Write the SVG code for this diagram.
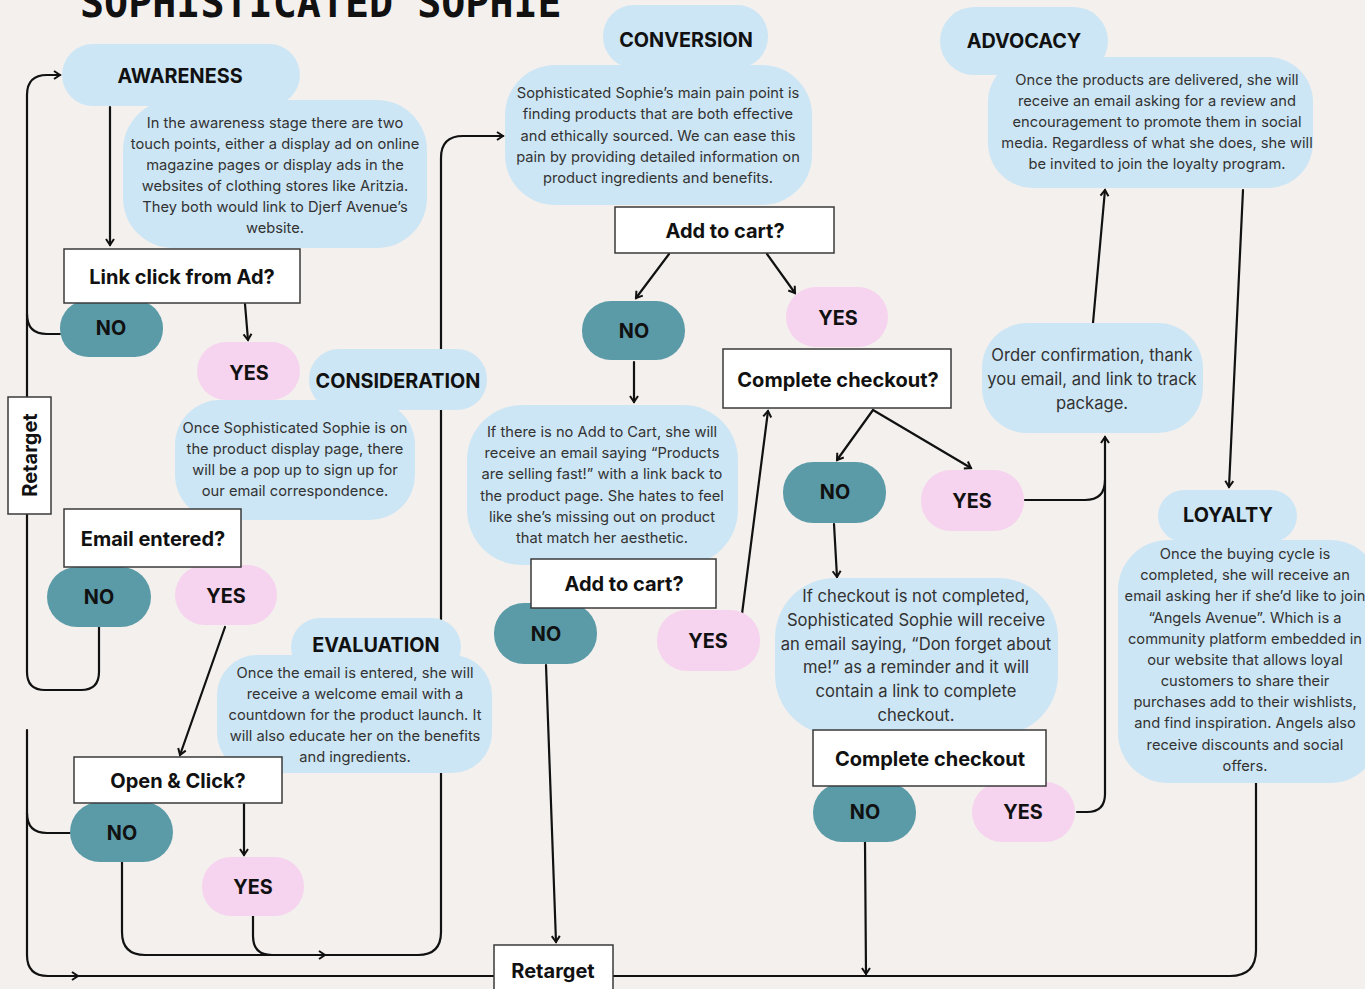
<svg xmlns="http://www.w3.org/2000/svg" width="1365" height="989" viewBox="0 0 1365 989" xml:space="preserve">
<defs>
<marker id="ah" viewBox="-8 -6 10 12" refX="0" refY="0" markerWidth="10" markerHeight="12" markerUnits="userSpaceOnUse" orient="auto">
<path d="M-6,-4 L0,0 L-6,4" fill="none" stroke="#111" stroke-width="2" stroke-linejoin="miter"/>
</marker>
</defs>
<style>
.bg{fill:#f4f0ed}
.bub{fill:#cde6f5}
.no{fill:#5b9ba8}
.yes{fill:#f6d3ee}
.box{fill:#ffffff;stroke:#3a3a3a;stroke-width:1.5}
.c{fill:none;stroke:#111;stroke-width:2.2;stroke-linecap:round}
.a{marker-end:url(#ah)}
.h{font-family:Inter,"Liberation Sans",sans-serif;font-weight:700;font-size:19.8px;fill:#111;text-anchor:middle}
.q{font-family:Inter,"Liberation Sans",sans-serif;font-weight:700;font-size:20px;fill:#111;text-anchor:middle}
.d{font-family:Inter,"Liberation Sans",sans-serif;font-size:14.7px;fill:#333;text-anchor:middle}
.dl{font-family:Inter,"Liberation Sans",sans-serif;font-size:16.6px;fill:#333;text-anchor:middle}
.t{font-family:"DejaVu Sans Mono",monospace;font-weight:700;font-size:40px;fill:#111}
</style>
<rect class="bg" x="0" y="0" width="1365" height="989"/>
<text class="t" x="80" y="17">SOPHISTICATED SOPHIE</text>

<g id="connectors">
<path class="c a" d="M110,107 L110,245"/>
<path class="c a" d="M245,304 L248,340"/>
<path class="c a" d="M99,627 L99,672 Q99,690 81,690 L45,690 Q27,690 27,672 L27,95 Q27,75 47,75 L60,75"/>
<path class="c" d="M60,334 L47,334 Q27,334 27,314"/>
<path class="c a" d="M27,730 L27,955 Q27,976 48,976 L78,976"/>
<path class="c" d="M78,976 L494,976"/>
<path class="c" d="M70,833 L47,833 Q27,833 27,813"/>
<path class="c a" d="M225,627 L180,755"/>
<path class="c a" d="M244,804 L244,855"/>
<path class="c a" d="M122,862 L122,932 Q122,955 145,955 L325,955"/>
<path class="c a" d="M325,955 L418,955 Q441,955 441,932 L441,158 Q441,136 463,136 L503,136"/>
<path class="c" d="M253,916 L253,936 Q253,955 272,955"/>
<path class="c a" d="M669,254 L636,298"/>
<path class="c a" d="M767,254 L795,293"/>
<path class="c a" d="M634,362 L634,402"/>
<path class="c a" d="M546,665 L556,942"/>
<path class="c a" d="M742,614 L768,411"/>
<path class="c a" d="M873,410 L837,460"/>
<path class="c a" d="M873,410 L971,468"/>
<path class="c a" d="M834,524 L837,577"/>
<path class="c" d="M1025,500 L1085,500 Q1105,500 1105,480"/>
<path class="c a" d="M1077,812 L1087,812 Q1105,812 1105,794 L1105,437"/>
<path class="c a" d="M1093,323 L1105,190"/>
<path class="c a" d="M1243,190 L1229,487"/>
<path class="c" d="M1256,783 L1256,950 Q1256,976 1230,976 L613,976"/>
<path class="c a" d="M865,842 L866,974"/>
</g>

<g id="awareness">
<rect class="bub" x="62" y="44" width="238" height="62" rx="31"/>
<text class="h" x="180" y="83">AWARENESS</text>
</g>
<g id="awareness-desc">
<rect class="bub" x="123" y="100" width="304" height="148" rx="50"/>
<text class="d" x="275" y="128">In the awareness stage there are two</text>
<text class="d" x="275" y="149">touch points, either a display ad on online</text>
<text class="d" x="275" y="170">magazine pages or display ads in the</text>
<text class="d" x="275" y="191">websites of clothing stores like Aritzia.</text>
<text class="d" x="275" y="212">They both would link  to Djerf Avenue’s</text>
<text class="d" x="275" y="233">website.</text>
</g>

<g id="consideration">
<rect class="bub" x="309" y="349" width="178" height="61" rx="30"/>
<text class="h" x="398" y="388">CONSIDERATION</text>
</g>
<g id="consideration-desc">
<rect class="bub" x="175" y="400" width="240" height="120" rx="45"/>
<text class="d" x="295" y="433">Once Sophisticated Sophie is on</text>
<text class="d" x="295" y="454">the product display page, there</text>
<text class="d" x="295" y="475">will be a pop up to sign up for</text>
<text class="d" x="295" y="496">our  email correspondence.</text>
</g>

<g id="evaluation">
<rect class="bub" x="291" y="618" width="170" height="58" rx="29"/>
<text class="h" x="376" y="652">EVALUATION</text>
</g>
<g id="evaluation-desc">
<rect class="bub" x="217" y="655" width="275" height="118" rx="40"/>
<text class="d" x="355" y="678">Once the email is entered, she will</text>
<text class="d" x="355" y="699">receive a  welcome email with a</text>
<text class="d" x="355" y="720">countdown for the product launch. It</text>
<text class="d" x="355" y="741">will also  educate  her on the benefits</text>
<text class="d" x="355" y="762">and ingredients.</text>
</g>

<g id="conversion">
<rect class="bub" x="603" y="5" width="165" height="63" rx="31"/>
<text class="h" x="686" y="47">CONVERSION</text>
</g>
<g id="conversion-desc">
<rect class="bub" x="505" y="65" width="307" height="140" rx="50"/>
<text class="d" x="658" y="98">Sophisticated Sophie’s main pain point is</text>
<text class="d" x="658" y="119">finding products that are both effective</text>
<text class="d" x="658" y="141">and ethically sourced. We can ease this</text>
<text class="d" x="658" y="162">pain by providing detailed information  on</text>
<text class="d" x="658" y="183">product ingredients and benefits.</text>
</g>

<g id="nocart-desc">
<rect class="bub" x="467" y="405" width="271" height="160" rx="55"/>
<text class="d" x="602" y="437">If there is no Add to Cart, she will</text>
<text class="d" x="602" y="458">receive an email saying “Products</text>
<text class="d" x="602" y="479">are selling fast!” with a link back to</text>
<text class="d" x="602" y="501">the product page. She hates to feel</text>
<text class="d" x="602" y="522">like she’s missing out on product</text>
<text class="d" x="602" y="543">that match her aesthetic.</text>
</g>

<g id="checkout-fail-desc">
<rect class="bub" x="775" y="578" width="283" height="157" rx="60"/>
<text class="dl" x="916" y="602">If checkout is not completed,</text>
<text class="dl" x="916" y="626">Sophisticated Sophie will receive</text>
<text class="dl" x="916" y="650">an email  saying, “Don forget about</text>
<text class="dl" x="916" y="673">me!” as a reminder and it will</text>
<text class="dl" x="916" y="697">contain a link to complete</text>
<text class="dl" x="916" y="721">checkout.</text>
</g>

<g id="advocacy">
<rect class="bub" x="940" y="7" width="168" height="68" rx="34"/>
<text class="h" x="1024" y="48">ADVOCACY</text>
</g>
<g id="advocacy-desc">
<rect class="bub" x="988" y="57" width="325" height="131" rx="45"/>
<text class="d" x="1157" y="85">Once the products are delivered, she will</text>
<text class="d" x="1157" y="106">receive an email asking for a review and</text>
<text class="d" x="1157" y="127">encouragement to promote them in social</text>
<text class="d" x="1157" y="148">media. Regardless of what she does, she will</text>
<text class="d" x="1157" y="169">be invited to join the loyalty program.</text>
</g>

<g id="order-confirmation">
<rect class="bub" x="982" y="323" width="221" height="110" rx="45"/>
<text class="dl" x="1092" y="361">Order confirmation, thank</text>
<text class="dl" x="1092" y="385">you email, and link to track</text>
<text class="dl" x="1092" y="409">package.</text>
</g>

<g id="loyalty">
<rect class="bub" x="1158" y="490" width="139" height="52" rx="26"/>
<text class="h" x="1228" y="522">LOYALTY</text>
</g>
<g id="loyalty-desc">
<rect class="bub" x="1118" y="540" width="262" height="243" rx="50"/>
<text class="d" x="1245" y="559">Once the buying cycle is</text>
<text class="d" x="1245" y="580">completed, she will receive an</text>
<text class="d" x="1245" y="601">email asking her if she’d like to join</text>
<text class="d" x="1245" y="623">“Angels Avenue”.  Which is a</text>
<text class="d" x="1245" y="644">community platform embedded in</text>
<text class="d" x="1245" y="665">our website that allows loyal</text>
<text class="d" x="1245" y="686">customers to share their</text>
<text class="d" x="1245" y="707">purchases add to their wishlists,</text>
<text class="d" x="1245" y="728">and find inspiration. Angels also</text>
<text class="d" x="1245" y="750">receive discounts and social</text>
<text class="d" x="1245" y="771">offers.</text>
</g>

<g id="no-link"><rect class="no" x="60" y="300" width="103" height="57" rx="28"/><text class="h" x="111" y="335">NO</text></g>
<g id="yes-link"><rect class="yes" x="197" y="342" width="103" height="58" rx="29"/><text class="h" x="249" y="380">YES</text></g>
<g id="no-email"><rect class="no" x="47" y="567" width="104" height="60" rx="30"/><text class="h" x="99" y="604">NO</text></g>
<g id="yes-email"><rect class="yes" x="175" y="565" width="102" height="60" rx="30"/><text class="h" x="226" y="603">YES</text></g>
<g id="no-open"><rect class="no" x="70" y="802" width="103" height="60" rx="30"/><text class="h" x="122" y="840">NO</text></g>
<g id="yes-open"><rect class="yes" x="202" y="857" width="102" height="59" rx="29"/><text class="h" x="253" y="894">YES</text></g>
<g id="no-cart1"><rect class="no" x="582" y="301" width="103" height="59" rx="29"/><text class="h" x="634" y="338">NO</text></g>
<g id="yes-cart1"><rect class="yes" x="786" y="287" width="102" height="60" rx="30"/><text class="h" x="838" y="325">YES</text></g>
<g id="no-cart2"><rect class="no" x="494" y="603" width="103" height="61" rx="30"/><text class="h" x="546" y="641">NO</text></g>
<g id="yes-cart2"><rect class="yes" x="657" y="610" width="103" height="61" rx="30"/><text class="h" x="708" y="648">YES</text></g>
<g id="no-checkout1"><rect class="no" x="783" y="462" width="103" height="61" rx="30"/><text class="h" x="835" y="499">NO</text></g>
<g id="yes-checkout1"><rect class="yes" x="921" y="470" width="103" height="61" rx="30"/><text class="h" x="972" y="508">YES</text></g>
<g id="no-checkout2"><rect class="no" x="813" y="783" width="103" height="59" rx="29"/><text class="h" x="865" y="819">NO</text></g>
<g id="yes-checkout2"><rect class="yes" x="972" y="782" width="103" height="60" rx="30"/><text class="h" x="1023" y="819">YES</text></g>

<g id="q-link"><rect class="box" x="64" y="249" width="236" height="54"/><text class="q" x="182" y="284">Link click from Ad?</text></g>
<g id="q-email"><rect class="box" x="64" y="509" width="177" height="58"/><text class="q" x="153" y="546">Email entered?</text></g>
<g id="q-open"><rect class="box" x="74" y="757" width="208" height="46"/><text class="q" x="178" y="788">Open &amp; Click?</text></g>
<g id="q-cart1"><rect class="box" x="615" y="207" width="219" height="46"/><text class="q" x="725" y="238">Add to cart?</text></g>
<g id="q-cart2"><rect class="box" x="531" y="559" width="185" height="49"/><text class="q" x="624" y="591">Add to cart?</text></g>
<g id="q-checkout1"><rect class="box" x="723" y="349" width="228" height="59"/><text class="q" x="838" y="387">Complete checkout?</text></g>
<g id="q-checkout2"><rect class="box" x="813" y="730" width="233" height="56"/><text class="q" x="930" y="766">Complete checkout</text></g>
<g id="retarget-left"><rect class="box" x="8" y="397" width="43" height="117"/><text class="q" transform="translate(37,455) rotate(-90)" x="0" y="0">Retarget</text></g>
<g id="retarget-bottom"><rect class="box" x="494" y="945" width="119" height="52"/><text class="q" x="553" y="978">Retarget</text></g>
</svg>
